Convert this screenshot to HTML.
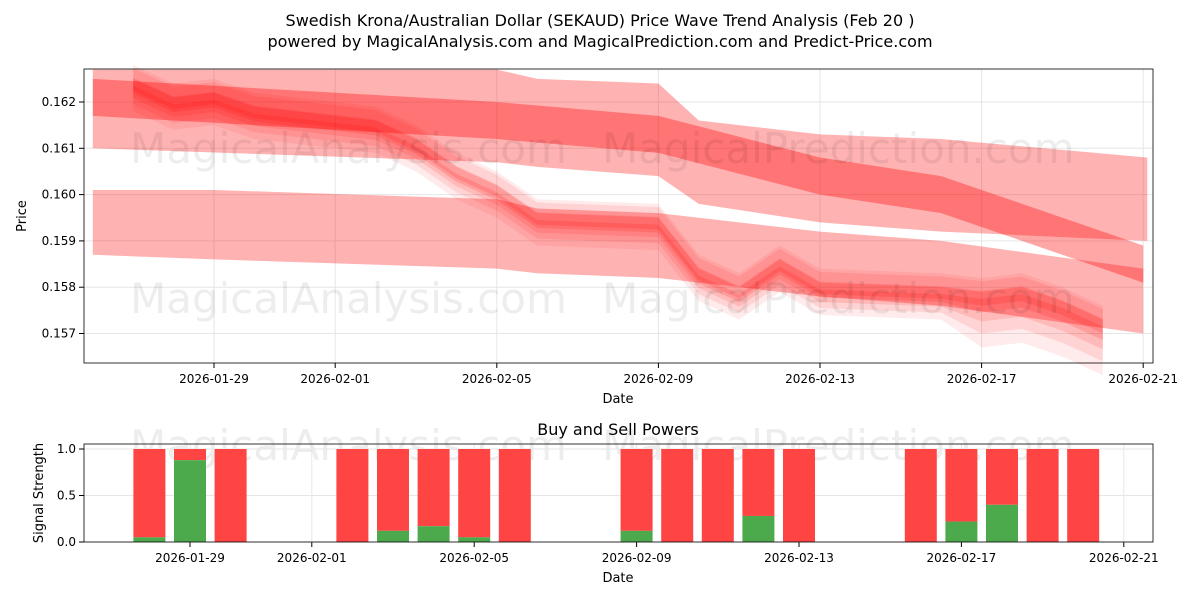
<!DOCTYPE html>
<html><head><meta charset="utf-8"><style>
body{margin:0;background:#fff;font-family:"Liberation Sans","DejaVu Sans",sans-serif}
svg text{font-family:"DejaVu Sans","Liberation Sans",sans-serif;fill:#000}
</style></head><body>
<svg id="c" width="1200" height="600" xmlns="http://www.w3.org/2000/svg">
<text x="600" y="26" font-size="16" text-anchor="middle">Swedish Krona/Australian Dollar (SEKAUD) Price Wave Trend Analysis (Feb 20 )</text>
<text x="600" y="47" font-size="16" text-anchor="middle">powered by MagicalAnalysis.com and MagicalPrediction.com and Predict-Price.com</text>
<text x="618" y="435" font-size="16" text-anchor="middle">Buy and Sell Powers</text>
</svg>
<script>
// day index: 0 = 2026-01-29
const xTickLabels=["2026-01-29","2026-02-01","2026-02-05","2026-02-09","2026-02-13","2026-02-17","2026-02-21"];
const xTickDays=[0,3,7,11,15,19,23];
const yTicks=[0.157,0.158,0.159,0.160,0.161,0.162];
const sTicks=[0,0.5,1];
const band1Days=[-3,7,8,11,12,15,18,23.1];
const band1Top=[0.1627,0.1627,0.1625,0.1624,0.1616,0.1613,0.1612,0.1608];
const band1Bot=[0.1610,0.1607,0.1606,0.1604,0.1598,0.1594,0.1592,0.1590];
const band2Days=[-3,7,11,15,18,23];
const band2Mid=[0.1621,0.1616,0.1613,0.1604,0.1600,0.1585];
const band3Days=[-3,0,7,8,11,15,18,23];
const band3Top=[0.1601,0.1601,0.1599,0.1597,0.1596,0.1592,0.1590,0.1584];
const band3Bot=[0.1587,0.1586,0.1584,0.1583,0.1582,0.1578,0.1576,0.1570];
const priceDays=[-2,-1,0,1,4,5,6,7,8,11,12,13,14,15,18,19,20,21,22];
const priceVals=[0.1623,0.1619,0.1620,0.1617,0.1614,0.1610,0.1604,0.1600,0.1594,0.1593,0.1582,0.1578,0.1584,0.1579,0.1578,0.1577,0.1578,0.1575,0.1571];
const barDays=[-1,0,1,4,5,6,7,8,11,12,13,14,15,18,19,20,21,22];
const buyVals=[0.05,0.88,0,0,0.12,0.17,0.05,0,0.12,0,0,0.28,0,0,0.22,0.40,0,0];
const NS="http://www.w3.org/2000/svg",svg=document.getElementById('c');
function el(t,a,p){const e=document.createElementNS(NS,t);for(const k in a)e.setAttribute(k,a[k]);(p||svg).appendChild(e);return e;}
const X=d=>214+d*40.4, Y=v=>102+(0.162-v)*46300;
const X2=d=>190+d*40.6, Y2=v=>542-v*93;
const g1=el('g',{});
xTickDays.forEach((d,i)=>{const gl=el('line',{x1:X(d),x2:X(d),y1:69,y2:363,stroke:'#e6e6e6'},g1);
el('line',{x1:X(d),x2:X(d),y1:363,y2:368,stroke:'#000'},g1);
const t=el('text',{x:X(d),y:383,'font-size':12,'text-anchor':'middle'},g1);t.textContent=xTickLabels[i];});
yTicks.forEach(v=>{el('line',{x1:84,x2:1153,y1:Y(v),y2:Y(v),stroke:'#e6e6e6'},g1);el('line',{x1:79,x2:84,y1:Y(v),y2:Y(v),stroke:'#000'},g1);
const t=el('text',{x:76,y:Y(v)+4,'font-size':12,'text-anchor':'end'},g1);t.textContent=v.toFixed(3);});
function wm(x,y,s){const t=el('text',{x:x,y:y,'font-size':42,fill:'#000','fill-opacity':0.07});t.textContent=s;}
wm(130,163,'MagicalAnalysis.com');wm(602,163,'MagicalPrediction.com');wm(130,313,'MagicalAnalysis.com');wm(602,313,'MagicalPrediction.com');wm(130,460,'MagicalAnalysis.com');wm(602,460,'MagicalPrediction.com');
function band(days,top,bot,op,name){let p=days.map((d,i)=>X(d)+','+Y(top[i]));p=p.concat(days.map((d,i)=>X(d)+','+Y(bot[i])).reverse());
const e=el('polygon',{points:p.join(' '),fill:'#ff0000','fill-opacity':op},g1);}
band(band1Days,band1Top,band1Bot,0.3,'trend-band-upper');
band(band2Days,band2Mid.map(v=>v+0.0004),band2Mid.map(v=>v-0.0004),0.35,'trend-band-middle');
band(band3Days,band3Top,band3Bot,0.3,'trend-band-lower');
[[0.0005,0.08],[0.00035,0.1],[0.00022,0.12],[0.00012,0.15],[0.00005,0.15]].forEach(([w,o],k)=>{
 band(priceDays,priceVals.map(v=>v+w+(k%2?0.00008:0)),priceVals.map((v,i)=>v-w-(i>14?w:0)),o,'price-wave');});
el('rect',{x:84,y:69,width:1069,height:294,fill:'none',stroke:'#000','stroke-width':0.8},g1);
let t=el('text',{x:618,y:403,'font-size':13,'text-anchor':'middle'});t.textContent='Date';
t=el('text',{x:26,y:216,'font-size':13,'text-anchor':'middle',transform:'rotate(-90 26 216)'});t.textContent='Price';
const g2=el('g',{});
xTickDays.forEach((d,i)=>{el('line',{x1:X2(d),x2:X2(d),y1:444,y2:542,stroke:'#e6e6e6'},g2);el('line',{x1:X2(d),x2:X2(d),y1:542,y2:547,stroke:'#000'},g2);
const t=el('text',{x:X2(d),y:562,'font-size':12,'text-anchor':'middle'},g2);t.textContent=xTickLabels[i];});
sTicks.forEach(v=>{el('line',{x1:84,x2:1153,y1:Y2(v),y2:Y2(v),stroke:'#e6e6e6'},g2);el('line',{x1:79,x2:84,y1:Y2(v),y2:Y2(v),stroke:'#000'},g2);
const t=el('text',{x:76,y:Y2(v)+4,'font-size':12,'text-anchor':'end'},g2);t.textContent=v.toFixed(1);});
barDays.forEach((d,i)=>{const b=buyVals[i];
const r=el('rect',{x:X2(d)-16,y:Y2(1),width:32,height:Y2(b)-Y2(1),fill:'#ff4444'},g2);
const gr=el('rect',{x:X2(d)-16,y:Y2(b),width:32,height:Y2(0)-Y2(b),fill:'#4caa4c'},g2);});
el('rect',{x:84,y:444,width:1069,height:98,fill:'none',stroke:'#000','stroke-width':0.8},g2);
t=el('text',{x:618,y:582,'font-size':13,'text-anchor':'middle'});t.textContent='Date';
t=el('text',{x:43,y:493,'font-size':13,'text-anchor':'middle',transform:'rotate(-90 43 493)'});t.textContent='Signal Strength';
</script>
</body></html>
